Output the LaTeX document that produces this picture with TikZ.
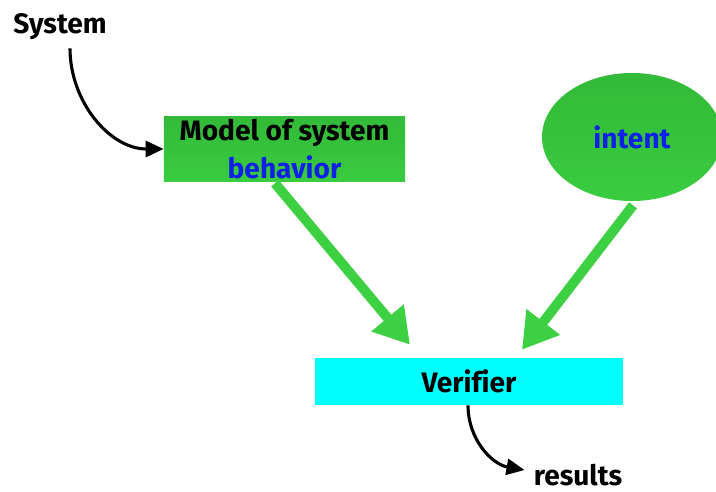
\documentclass[tikz,border=0pt]{standalone}
\usepackage{fontspec}
\setmainfont[Ligatures=NoCommon]{Fira Sans}
\usetikzlibrary{arrows.meta,shapes.geometric}
\definecolor{boxgreen}{RGB}{58,204,64}
\definecolor{topgreen}{RGB}{50,186,56}
\definecolor{arrowgreen}{RGB}{60,208,66}
\definecolor{textblue}{RGB}{16,32,230}
\definecolor{boxcyan}{RGB}{0,255,255}

\begin{document}
\begin{tikzpicture}[x=0.025cm,y=-0.025cm,
			word/.style={font=\bfseries\fontsize{20}{27}\selectfont,inner sep=0pt},
			green box/.style={top color=topgreen,bottom color=boxgreen},
			thin arrow/.style={line width=2.2pt,-{Triangle[length=0.45cm,width=0.4cm]}},
			fat arrow/.style={line width=7pt,arrowgreen,-{Triangle[length=0.875cm,width=1cm]}}]
			
			\useasboundingbox (0,0) rectangle (716,492);
			
			\node[word] (sys) at (60,27) {System};
			\node[word,green box,align=center,minimum width=6.025cm,minimum height=1.6cm] (model) at (284.5,149) {Model of system\\\textcolor{textblue}{behavior}};
			\node[word,green box,ellipse,text=textblue,minimum width=4.5cm,minimum height=3.2cm] (intent) at (632,137) {intent};
			\node[word,fill=boxcyan,minimum width=7.7cm,minimum height=1.175cm] (verifier) at (469,381.5) {Verifier};
			\node[word] (res) at (578,475) {results};
			
			\draw[thin arrow] ([shift={(10,8)}]sys.south) to[out=-90,in=180] (model.west);
			\draw[fat arrow] ([shift={(-9.5,2)}]model.south) -- ([shift={(-59,-13)}]verifier.north);
			\draw[fat arrow] ([shift={(1,4)}]intent.south) -- ([shift={(53,-8)}]verifier.north);
			\draw[thin arrow] ([shift={(-1,0)}]verifier.south) to[out=-90,in=170] ([shift={(-9,-5)}]res.west);
			
			\end{tikzpicture}
\end{document}
